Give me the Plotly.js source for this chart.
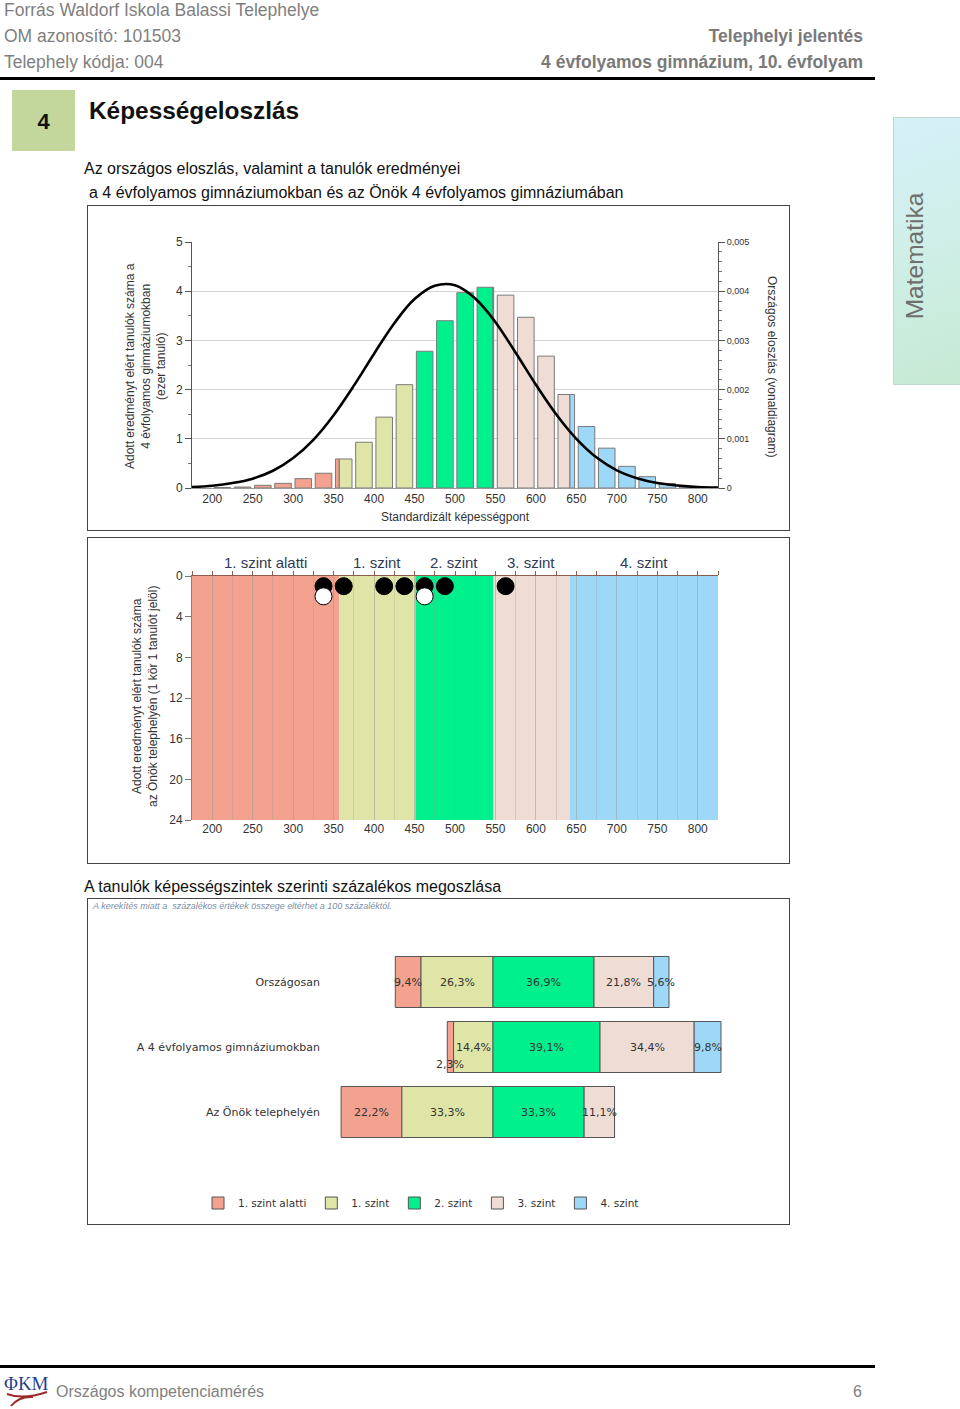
<!DOCTYPE html>
<html><head><meta charset="utf-8">
<script src="https://cdn.plot.ly/plotly-3.0.1.min.js"></script>
<style>
body{margin:0;width:960px;height:1409px;position:relative;background:#fff;font-family:'Liberation Sans',Arial,sans-serif;overflow:hidden}
.t{position:absolute;white-space:nowrap;line-height:20px}
.box{position:absolute;left:87px;width:703px;height:327px;border:1px solid #444;box-sizing:border-box}
.hg{color:#7f7f7f;font-size:17.5px}
.hb{color:#7a7a7a;font-size:17.5px;font-weight:bold;text-align:right}
</style></head><body>
<div class="t hg" style="left:4px;top:0px">Forrás Waldorf Iskola Balassi Telephelye</div>
<div class="t hg" style="left:4px;top:26px">OM azonosító: 101503</div>
<div class="t hg" style="left:4px;top:52px">Telephely kódja: 004</div>
<div class="t hb" style="right:97px;top:26px">Telephelyi jelentés</div>
<div class="t hb" style="right:97px;top:52px">4 évfolyamos gimnázium, 10. évfolyam</div>
<div style="position:absolute;left:0;top:77px;width:875px;height:3px;background:#000"></div>
<div style="position:absolute;left:12px;top:90px;width:63px;height:61px;background:#c3d69b"></div>
<div class="t" style="left:12px;top:110px;width:63px;text-align:center;font-size:22px;font-weight:bold;line-height:24px;color:#111">4</div>
<div class="t" style="left:89px;top:97px;font-size:24.4px;font-weight:bold;line-height:28px;color:#111">Képességeloszlás</div>
<div class="t" style="left:84px;top:159px;font-size:16px;color:#111">Az országos eloszlás, valamint a tanulók eredményei</div>
<div class="t" style="left:89px;top:183px;font-size:16px;color:#111">a 4 évfolyamos gimnáziumokban és az Önök 4 évfolyamos gimnáziumában</div>
<div class="t" style="left:84px;top:877px;font-size:16px;color:#111">A tanulók képességszintek szerinti százalékos megoszlása</div>

<div style="position:absolute;left:893px;top:117px;width:70px;height:268px;background:linear-gradient(160deg,#d6f1f9,#cdeee3 60%,#c6e9d3);border:1px solid #b9d9c9;box-sizing:border-box"></div>
<div class="t" style="left:915px;top:256px;font-size:24.5px;color:#6f6f6f;line-height:28px;transform:translate(-50%,-50%) rotate(-90deg)">Matematika</div>

<div class="box" style="top:205px;height:326px"><div id="c1"></div></div>
<div class="box" style="top:537px"><div id="c2"></div></div>
<div class="box" style="top:898px"><div id="c3"></div></div>

<div style="position:absolute;left:0;top:1365px;width:875px;height:3px;background:#000"></div>
<svg style="position:absolute;left:3px;top:1370px" width="48" height="38">
<text x="1" y="20" font-family="Liberation Serif,serif" font-size="19" fill="#1f3f8f">ΦKM</text>
<path d="M4 24 Q20 30 44 22 M8 36 Q16 26 30 27" stroke="#9b2a2a" stroke-width="2" fill="none"/>
</svg>
<div class="t" style="left:56px;top:1382px;font-size:16px;color:#808080">Országos kompetenciamérés</div>
<div class="t" style="left:853px;top:1382px;font-size:16px;color:#808080">6</div>

<script>
// ---------- DATA ----------
const levelNames = ['1. szint alatti', '1. szint', '2. szint', '3. szint', '4. szint'];
const levelCuts = [357, 451, 547, 642];           // score boundaries between levels
const scoreBins = [212.5,237.5,262.5,287.5,312.5,337.5,362.5,387.5,412.5,437.5,462.5,487.5,
                   512.5,537.5,562.5,587.5,612.5,637.5,662.5,687.5,712.5,737.5,762.5,787.5];
const binCountsThousands = [0.01,0.02,0.055,0.095,0.19,0.30,0.59,0.93,1.44,2.10,2.78,3.40,
                   3.97,4.08,3.92,3.47,2.68,1.90,1.25,0.81,0.44,0.23,0.09,0.03];
const curveScores = [175,200,225,250,275,300,325,350,375,400,425,450,475,500,525,550,575,600,625,650,675,700,725,750,775,800,825];
const curveDensity = [0.00002,0.000046,0.0001,0.00019,0.00035,0.00061,0.00098,0.00148,0.00208,0.00273,
                      0.00335,0.00384,0.00411,0.00412,0.00385,0.00337,0.00275,0.0021,0.0015,0.001,
                      0.00062,0.00036,0.0002,0.0001,0.00005,0.00002,0.00001];
const studentScores = [337.5, 337.5, 362.5, 412.5, 437.5, 462.5, 462.5, 487.5, 562.5];
const groupNames = ['Országosan', 'A 4 évfolyamos gimnáziumokban', 'Az Önök telephelyén'];
const pctBelow1 = [9.4, 2.3, 22.2];
const pctLevel1 = [26.3, 14.4, 33.3];
const pctLevel2 = [36.9, 39.1, 33.3];
const pctLevel3 = [21.8, 34.4, 11.1];
const pctLevel4 = [5.6, 9.8, 0];
const scoreTicks = [200,250,300,350,400,450,500,550,600,650,700,750,800];

// ---------- STYLE ----------
const colors = ['#f2a28e', '#dfe5a6', '#00f08e', '#eedcd5', '#9ed8f8'];
const F = 'Liberation Sans, Arial, sans-serif';
const FD = 'DejaVu Sans, Verdana, sans-serif';
const xRange = [175, 825];
const cfg = {displayModeBar:false, staticPlot:true};

// ---------- CHART 1 ----------
(function(){
  const W=701,H=324, m={l:104,r:71,t:36,b:42, autoexpand:false};
  const pw=W-m.l-m.r, ph=H-m.t-m.b;
  const binW=25, fill=0.82;
  const levelOf = x => { let i=0; while(i<levelCuts.length && x>=levelCuts[i]) i++; return i; };
  const segs = levelNames.map(()=>({x:[],y:[],w:[]}));
  scoreBins.forEach((c,i)=>{
    const a=c-binW*fill/2, b=c+binW*fill/2;
    const pts=[a, ...levelCuts.filter(t=>t>a&&t<b), b];
    for(let k=0;k<pts.length-1;k++){
      const mid=(pts[k]+pts[k+1])/2, L=levelOf(mid);
      segs[L].x.push(mid); segs[L].y.push(binCountsThousands[i]); segs[L].w.push(pts[k+1]-pts[k]);
    }
  });
  const traces = segs.map((s,i)=>({type:'bar', x:s.x, y:s.y, width:s.w, name:levelNames[i],
     marker:{color:colors[i], line:{color:'#7a7a7a', width:1}}, showlegend:false}));
  traces.push({type:'scatter', mode:'lines', x:curveScores, y:curveDensity, yaxis:'y2',
     line:{color:'#000', width:2.6, shape:'spline'}, showlegend:false});
  const layout = {
    width:W, height:H, margin:m, paper_bgcolor:'#fff', plot_bgcolor:'#fff',
    barmode:'overlay', separators:', ', font:{family:F, color:'#333', size:12},
    xaxis:{range:xRange, tickvals:scoreTicks, showgrid:false, zeroline:false, showline:true,
           linecolor:'#999', linewidth:1, ticks:'', tickfont:{size:12, color:'#333'}},
    yaxis:{range:[0,5], dtick:1, showgrid:true, gridcolor:'#d4d4d4', zeroline:false,
           showline:true, linecolor:'#555', ticks:'outside', ticklen:6, tickcolor:'#555',
           minor:{ticks:'outside', ticklen:3, dtick:0.5, tickcolor:'#777', showgrid:false},
           tickfont:{size:12, color:'#333'}},
    yaxis2:{overlaying:'y', side:'right', range:[0,0.005], dtick:0.001, tickformat:'.3~f',
           showgrid:false, zeroline:false, showline:true, linecolor:'#555', ticks:'outside',
           ticklen:6, tickcolor:'#555', minor:{ticks:'outside', ticklen:3, dtick:0.0002, tickcolor:'#777'},
           tickfont:{size:9, color:'#333'}},
    annotations:[
      {xref:'paper', yref:'paper', x:(57-m.l)/pw, y:1-(160-m.t)/ph, xanchor:'center', yanchor:'middle',
       textangle:-90, showarrow:false,
       text:'Adott eredményt elért tanulók száma a<br>4 évfolyamos gimnáziumokban<br>(ezer tanuló)',
       font:{size:12, color:'#333'}},
      {xref:'paper', yref:'paper', x:(684-m.l)/pw, y:1-(160-m.t)/ph, xanchor:'center', yanchor:'middle',
       textangle:90, showarrow:false,
       text:'Országos eloszlás (vonaldiagram)', font:{size:12, color:'#333'}},
      {xref:'paper', yref:'paper', x:0.5, y:1-(311-m.t)/ph, xanchor:'center', yanchor:'middle', showarrow:false,
       text:'Standardizált képességpont', font:{size:12, color:'#333'}}
    ]
  };
  Plotly.newPlot('c1', traces, layout, cfg);
})();

// ---------- CHART 2 ----------
(function(){
  const W=701,H=325, m={l:104,r:71,t:38,b:43, autoexpand:false};
  const pw=W-m.l-m.r, ph=H-m.t-m.b;
  const edges=[xRange[0], ...levelCuts, xRange[1]];
  const shapes = levelNames.map((n,i)=>({type:'rect', xref:'x', yref:'paper', x0:edges[i], x1:edges[i+1],
      y0:0, y1:1, fillcolor:colors[i], line:{width:0}, layer:'below'}));
  const annotations = levelNames.map((n,i)=>({xref:'x', yref:'paper', x:(edges[i]+edges[i+1])/2,
      y:1+(m.t-24)/ph, xanchor:'center', yanchor:'middle', text:n, showarrow:false,
      font:{size:15, color:'#2e3b55'}}));
  annotations.push({xref:'paper', yref:'paper', x:(57-m.l)/pw, y:1-(159-m.t)/ph, xanchor:'center', yanchor:'middle',
      textangle:-90, showarrow:false,
      text:'Adott eredményt elért tanulók száma<br>az Önök telephelyén (1 kör 1 tanulót jelöl)',
      font:{size:12, color:'#333'}});
  // stack students per bin
  const seen={}, blackX=[], blackY=[], whiteX=[], whiteY=[];
  studentScores.forEach(s=>{ seen[s]=(seen[s]||0)+1;
    if(seen[s]===1){blackX.push(s); blackY.push(1);} else {whiteX.push(s); whiteY.push(seen[s]);} });
  const traces=[
    {type:'scatter', mode:'markers', x:blackX, y:blackY, xaxis:'x2', showlegend:false,
     marker:{size:17, color:'#000', line:{color:'#000', width:1}}},
    {type:'scatter', mode:'markers', x:whiteX, y:whiteY, xaxis:'x2', showlegend:false,
     marker:{size:17, color:'#fff', line:{color:'#000', width:1}}}
  ];
  const layout={
    width:W, height:H, margin:m, paper_bgcolor:'#fff', plot_bgcolor:'#fff',
    font:{family:F, color:'#333', size:12}, shapes, annotations,
    xaxis:{range:xRange, tickvals:scoreTicks, showgrid:true, gridcolor:'rgba(150,150,150,0.28)',
           minor:{dtick:25, tick0:175, showgrid:true, gridcolor:'rgba(150,150,150,0.28)'},
           zeroline:false, showline:false, ticks:'', tickfont:{size:12, color:'#333'}},
    xaxis2:{overlaying:'x', matches:'x', side:'top', range:xRange, tick0:175, dtick:25, showticklabels:false,
           showgrid:false, zeroline:false, showline:true, linecolor:'#8b5b4b', linewidth:1.5,
           ticks:'outside', ticklen:4, tickcolor:'#8b5b4b'},
    yaxis:{range:[24,0], tickvals:[0,4,8,12,16,20,24], showgrid:false, zeroline:false, showline:true,
           linecolor:'#9a7a6a', ticks:'outside', ticklen:6, tickcolor:'#777', tickfont:{size:12, color:'#333'}}
  };
  Plotly.newPlot('c2', traces, layout, cfg);
})();

// ---------- CHART 3 ----------
(function(){
  const W=701,H=325, m={l:237,r:29,t:30,b:75, autoexpand:false};
  const pw=W-m.l-m.r, ph=H-m.t-m.b;
  const pxPerPct = 2.737, zeroPx = 493, plotLeftPx = 325, plotRightPx = 760;
  const rowPx = 65, row0Px = 83;
  const series=[pctBelow1, pctLevel1, pctLevel2, pctLevel3, pctLevel4];
  const bases=[
    pctBelow1.map((v,i)=>-(v+pctLevel1[i])),
    pctLevel1.map(v=>-v),
    pctLevel2.map(()=>0),
    pctLevel2.slice(),
    pctLevel2.map((v,i)=>v+pctLevel3[i])
  ];
  const traces=series.map((s,k)=>({type:'bar', orientation:'h', y:groupNames, x:s, base:bases[k],
     width:0.785, name:levelNames[k], marker:{color:colors[k], line:{color:'#555', width:1}}, hoverinfo:'none'}));
  const annotations=[];
  series.forEach((s,k)=>s.forEach((v,i)=>{ if(v<=0) return;
    annotations.push({x:bases[k][i]+v/2, y:groupNames[i], text:v.toFixed(1).replace('.',',')+'%',
      xanchor:'center', yanchor:'middle',
      showarrow:false, yshift: v<3 ? -17 : 0, font:{family:FD, size:11, color:'#333'}}); }));
  annotations.push({xref:'paper', yref:'paper', x:(2-m.l)/pw, y:1+(m.t-7)/ph, xanchor:'left', yanchor:'middle',
      text:'<i>A kerekítés miatt a  százalékos értékek összege eltérhet a 100 százaléktól.</i>',
      showarrow:false, font:{family:F, size:9, color:'#7b8fa8'}});
  const layout={
    width:W, height:H, margin:m, paper_bgcolor:'#fff', plot_bgcolor:'#fff',
    barmode:'overlay', font:{family:FD, color:'#333', size:11}, annotations,
    xaxis:{range:[(plotLeftPx-zeroPx)/pxPerPct, (plotRightPx-zeroPx)/pxPerPct], visible:false},
    yaxis:{type:'category', categoryarray:groupNames,
           range:[2+(H-m.b-(row0Px+2*rowPx))/rowPx, -(row0Px-m.t)/rowPx],
           showgrid:false, zeroline:false, showline:false, ticks:'', ticklabelstandoff:4,
           tickfont:{family:FD, size:11, color:'#333'}},
    showlegend:true,
    legend:{orientation:'h', x:(110-m.l)/pw, xanchor:'left', y:-(304-(H-m.b))/ph, yanchor:'middle',
            font:{family:FD, size:10.5, color:'#333'}, traceorder:'normal', itemwidth:30}
  };
  Plotly.newPlot('c3', traces, layout, cfg);
})();
</script>
</body></html>
